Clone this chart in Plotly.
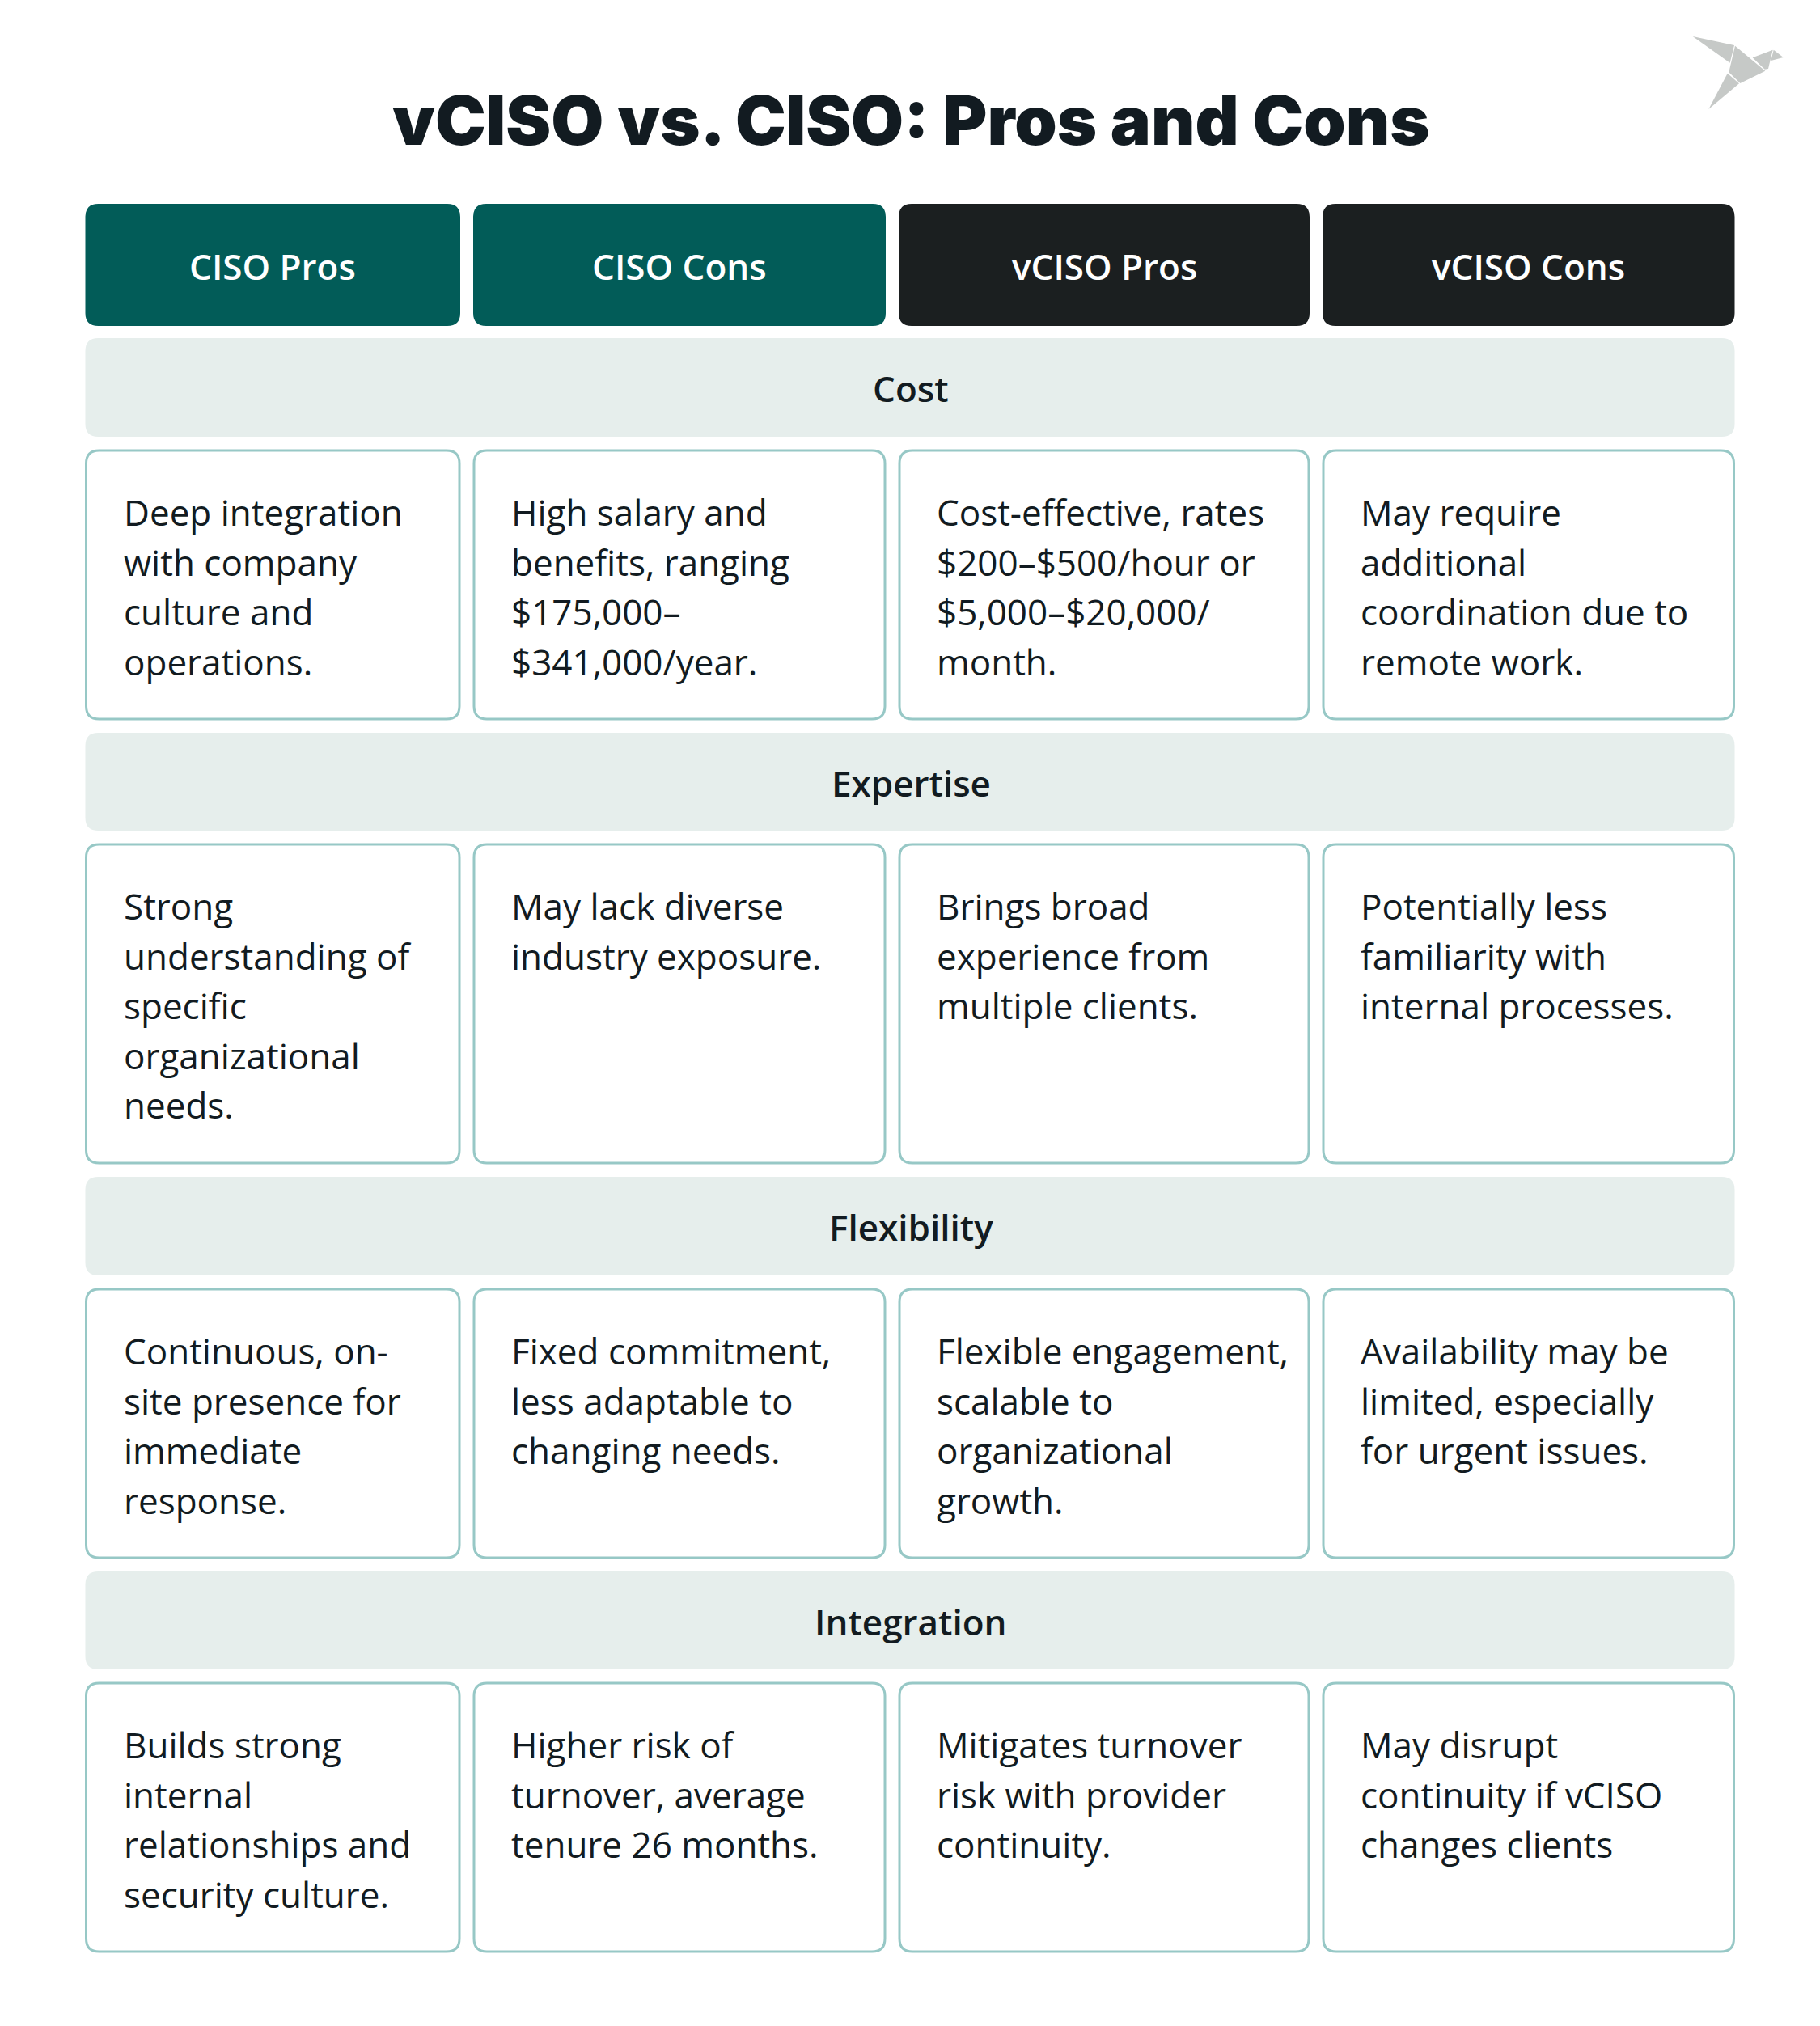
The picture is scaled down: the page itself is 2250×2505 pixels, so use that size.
"""Makes the vCISO vs. CISO comparison table."""

import plotly.graph_objects as go

TITLE = "vCISO vs. CISO: Pros and Cons"
COLUMNS = ["CISO Pros", "CISO Cons", "vCISO Pros", "vCISO Cons"]
SECTIONS = ["Cost", "Expertise", "Flexibility", "Integration"]

COST = [
    ["Deep integration", "with company", "culture and", "operations."],
    ["High salary and", "benefits, ranging", "$175,000–", "$341,000/year."],
    ["Cost-effective, rates", "$200–$500/hour or", "$5,000–$20,000/", "month."],
    ["May require", "additional", "coordination due to", "remote work."],
]
EXPERTISE = [
    ["Strong", "understanding of", "specific", "organizational", "needs."],
    ["May lack diverse", "industry exposure."],
    ["Brings broad", "experience from", "multiple clients."],
    ["Potentially less", "familiarity with", "internal processes."],
]
FLEXIBILITY = [
    ["Continuous, on-", "site presence for", "immediate", "response."],
    ["Fixed commitment,", "less adaptable to", "changing needs."],
    ["Flexible engagement,", "scalable to", "organizational", "growth."],
    ["Availability may be", "limited, especially", "for urgent issues."],
]
INTEGRATION = [
    ["Builds strong", "internal", "relationships and", "security culture."],
    ["Higher risk of", "turnover, average", "tenure 26 months."],
    ["Mitigates turnover", "risk with provider", "continuity."],
    ["May disrupt", "continuity if vCISO", "changes clients"],
]
CELLS = [COST, EXPERTISE, FLEXIBILITY, INTEGRATION]

# layout, in page pixels
WIDTH, HEIGHT = 2250, 2505
COL_EDGES = [(105.5, 569), (585, 1095), (1111, 1619), (1635, 2144.5)]
HEADER_TOP, HEADER_BOTTOM = 252, 403
BAND_EDGES = [(418, 540), (906, 1027), (1455, 1577), (1943, 2064)]
CARD_EDGES = [(556, 890), (1043, 1439), (1593, 1927), (2080, 2414)]
HEADER_COLORS = ["#025C58", "#025C58", "#1B1F20", "#1B1F20"]
TEXT_COLOR = "#121B21"
LINE_STEP = 61.5
BODY_SIZE = 44

BIRD = [
    [(428, 135), (582, 168), (566, 233)],
    [(585, 170), (697, 263), (604, 309), (562, 268)],
    [(557, 272), (600, 310), (487, 405)],
    [(650, 214), (725, 185), (708, 255), (695, 257)],
    [(728, 185), (764, 213), (718, 225)],
]


def rounded(x0, y0, x1, y1, r):
    """SVG path of a rounded rectangle."""
    return (
        f"M{x0 + r},{y0} L{x1 - r},{y0} Q{x1},{y0} {x1},{y0 + r} "
        f"L{x1},{y1 - r} Q{x1},{y1} {x1 - r},{y1} "
        f"L{x0 + r},{y1} Q{x0},{y1} {x0},{y1 - r} "
        f"L{x0},{y0 + r} Q{x0},{y0} {x0 + r},{y0} Z"
    )


fig = go.Figure()


def add_box(x0, y0, x1, y1, fill, line=None, r=16):
    fig.add_shape(
        type="path",
        path=rounded(x0, y0, x1, y1, r),
        fillcolor=fill,
        line=dict(color=line, width=3) if line else dict(width=0),
        layer="below",
    )


def add_text(x, y, text, size, color=TEXT_COLOR, weight=400, anchor="center", family="Open Sans"):
    fig.add_annotation(
        x=x, y=y, text=text, showarrow=False, xanchor=anchor, yanchor="middle",
        font=dict(family=family, size=size, color=color, weight=weight),
    )


add_text(1126, 148, TITLE, 84, weight=900, family="Inter")

for (x0, x1), label, color in zip(COL_EDGES, COLUMNS, HEADER_COLORS):
    add_box(x0, HEADER_TOP, x1, HEADER_BOTTOM, color)
    add_text((x0 + x1) / 2, 329, label, BODY_SIZE, color="white", weight=600)

for (y0, y1), label in zip(BAND_EDGES, SECTIONS):
    add_box(COL_EDGES[0][0], y0, COL_EDGES[-1][1], y1, "#E6EEEC")
    add_text(1126, (y0 + y1) / 2 + 1, label, BODY_SIZE, weight=600)

for (y0, y1), row in zip(CARD_EDGES, CELLS):
    for (x0, x1), lines in zip(COL_EDGES, row):
        add_box(x0 + 1, y0 + 1, x1 - 1, y1 - 1, "white", line="#97C8C6")
        for i, line in enumerate(lines):
            add_text(x0 + 45, y0 + 77 + i * LINE_STEP, line, BODY_SIZE, anchor="left")

for part in BIRD:
    path = "M" + " L".join(f"{1950 + px / 3},{py / 3}" for px, py in part) + " Z"
    fig.add_shape(type="path", path=path, fillcolor="#C6C9C7", line=dict(width=0), layer="below")

fig.update_xaxes(range=[0, WIDTH], visible=False, fixedrange=True)
fig.update_yaxes(range=[HEIGHT, 0], visible=False, fixedrange=True)
fig.update_layout(
    width=WIDTH, height=HEIGHT,
    margin=dict(l=0, r=0, t=0, b=0),
    plot_bgcolor="white", paper_bgcolor="white",
    showlegend=False,
)
fig.write_html(
    "out.html",
    config={"displayModeBar": False},
    post_script="document.body.style.margin='0';",
)
